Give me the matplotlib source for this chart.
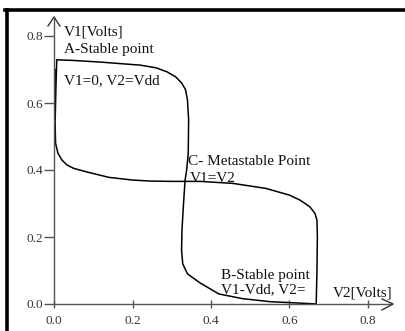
import matplotlib
matplotlib.use("Agg")
import matplotlib.pyplot as plt
from matplotlib.lines import Line2D

# Curve 1: V1 as a function of V2 (points as V2, V1)
c1_v2 = [0.003, 0.005, 0.007, 0.05, 0.12, 0.22, 0.26, 0.288, 0.31, 0.325, 0.335, 0.340,
         0.343, 0.342, 0.338, 0.334, 0.330, 0.326, 0.325, 0.328, 0.340, 0.372, 0.42,
         0.48, 0.55, 0.62, 0.655, 0.668]
c1_v1 = [0.55, 0.65, 0.729, 0.727, 0.722, 0.713, 0.705, 0.693, 0.678, 0.66, 0.64, 0.61,
         0.55, 0.45, 0.40, 0.37, 0.30, 0.22, 0.16, 0.12, 0.09, 0.063, 0.030,
         0.016, 0.007, 0.003, 0.001, 0.0]

# Curve 2: V2 as a function of V1 (points as V2, V1)
c2_v2 = [0.668, 0.670, 0.671, 0.670, 0.665, 0.652, 0.627, 0.60, 0.54, 0.456, 0.372,
         0.30, 0.245, 0.20, 0.14, 0.084, 0.05, 0.033, 0.02, 0.010, 0.004, 0.002, 0.003]
c2_v1 = [0.0, 0.10, 0.20, 0.25, 0.27, 0.29, 0.31, 0.325, 0.345, 0.360, 0.366,
         0.366, 0.367, 0.370, 0.378, 0.394, 0.405, 0.415, 0.43, 0.45, 0.48, 0.58, 0.70]

x_ticks = [0.0, 0.2, 0.4, 0.6, 0.8]
y_ticks = [0.0, 0.2, 0.4, 0.6, 0.8]
x_ticklabels = ["0.0", "0.2", "0.4", "0.6", "0.8"]
y_ticklabels = ["0.0", "0.2", "0.4", "0.6", "0.8"]

W, H = 406, 331
fig = plt.figure(figsize=(W / 100, H / 100), dpi=100)
serif = ["Liberation Serif", "DejaVu Serif"]

x0, y0 = 54, 304
px_per_x, px_per_y = 392.5, 335.0
xr, yt = 392, 18
ax = fig.add_axes([x0 / W, (H - y0) / H, (xr - x0) / W, (y0 - yt) / H])
ax.set_xlim(0, (xr - x0) / px_per_x)
ax.set_ylim(0, (y0 - yt) / px_per_y)

axis_col = "#555555"
for s in ["top", "right"]:
    ax.spines[s].set_visible(False)
for s in ["left", "bottom"]:
    ax.spines[s].set_color(axis_col)
    ax.spines[s].set_linewidth(1.0)

ax.plot(c1_v2, c1_v1, color="black", lw=1.1, clip_on=False)
ax.plot(c2_v2, c2_v1, color="black", lw=1.1, clip_on=False)

ax.set_xticks(x_ticks)
ax.set_xticklabels(x_ticklabels)
ax.set_yticks(y_ticks)
ax.set_yticklabels(y_ticklabels)
ax.tick_params(axis="y", direction="out", length=7, width=1, color=axis_col, pad=1,
               labelsize=9.5, labelcolor="#333344")
ax.tick_params(axis="x", direction="inout", length=6, width=1, color=axis_col, pad=5,
               labelsize=9.5, labelcolor="#333344")
for lab in ax.get_xticklabels() + ax.get_yticklabels():
    lab.set_fontfamily(serif)

def fline(pts, **kw):
    xs = [p[0] / W for p in pts]
    ys = [1 - p[1] / H for p in pts]
    fig.lines.append(Line2D(xs, ys, transform=fig.transFigure, **kw))

# arrow heads
fline([(48, 26), (54, 17), (60, 26)], color="#333333", lw=1.0)
fline([(382, 299), (393, 304), (382, 310)], color="#333333", lw=1.0)

# frame
fline([(6.5, 331), (6.5, 10)], color="black", lw=2.6)
fline([(5, 10), (406, 10)], color="black", lw=2.6)

fs = 11
def ftext(x, y, s, **kw):
    fig.text(x / W, 1 - y / H, s, fontsize=fs, fontfamily=serif, va="center", ha="left",
             color="#111111", **kw)

ftext(64, 32, "V1[Volts]")
ftext(64, 49, "A-Stable point")
ftext(64, 81, "V1=0, V2=Vdd")
ftext(188, 161, "C- Metastable Point")
ftext(190, 178, "V1=V2")
ftext(221, 275, "B-Stable point")
ftext(221, 290, "V1-Vdd, V2=")
ftext(333, 293, "V2[Volts]")

fig.savefig("out.png", dpi=100)
